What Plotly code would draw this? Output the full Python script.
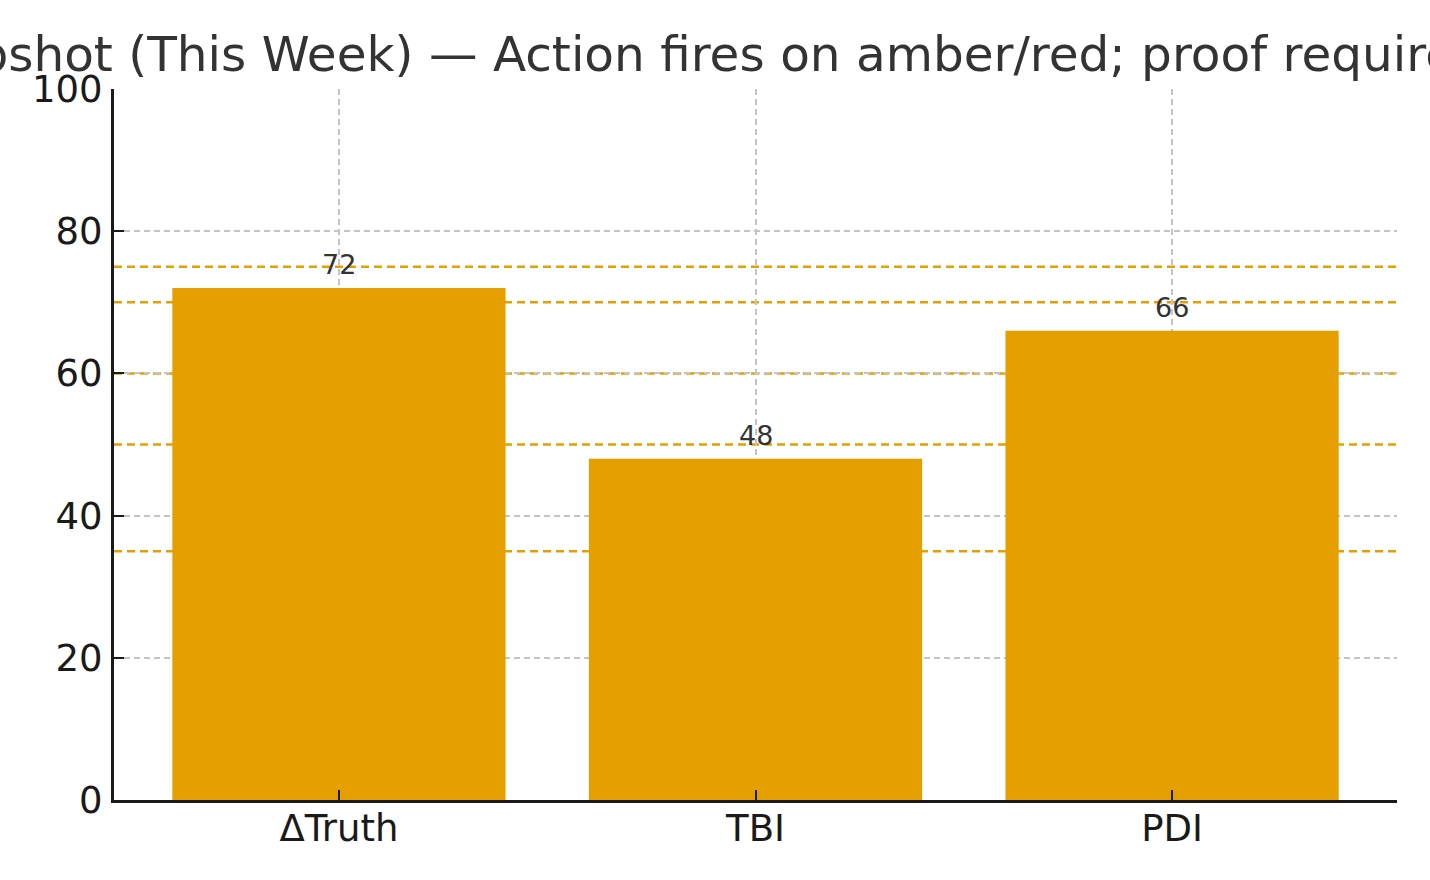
"""
KPI snapshot bar chart - Plotly recreation
"""

import plotly.graph_objects as go

# ── data ──────────────────────────────────────────────────
categories = ["ΔTruth", "TBI", "PDI"]
scores = [72, 48, 66]
threshold_levels = [75, 70, 60, 50, 35]
y_ticks = [0, 20, 40, 60, 80, 100]

TITLE = "Snapshot (This Week) — Action fires on amber/red; proof required"
AMBER = "#E5A000"
FONT = "DejaVu Sans"

fig = go.Figure()

fig.add_trace(
    go.Bar(
        x=categories,
        y=scores,
        width=0.8,
        marker=dict(color=AMBER, line=dict(width=0)),
        showlegend=False,
        hoverinfo="x+y",
    )
)

# value labels above bars
for cat, val in zip(categories, scores):
    fig.add_annotation(
        x=cat, y=val,
        text=str(val),
        showarrow=False,
        yanchor="bottom",
        yshift=6,
        font=dict(family=FONT, size=27, color="#333333"),
    )

# threshold lines (behind bars)
for lvl in threshold_levels:
    fig.add_shape(
        type="line",
        xref="paper", yref="y",
        x0=0, x1=1, y0=lvl, y1=lvl,
        line=dict(color="#E69F00", width=2.5, dash="8px,5px"),
        layer="below",
    )

fig.update_layout(
    width=1430,
    height=880,
    paper_bgcolor="white",
    plot_bgcolor="white",
    margin=dict(l=114, r=33, t=89, b=80, autoexpand=False),
    title=dict(
        text=TITLE,
        x=0.4797,
        xref="container",
        xanchor="center",
        y=0.939,
        yref="container",
        yanchor="middle",
        font=dict(family=FONT, size=48.5, color="#333333"),
    ),
    font=dict(family=FONT, color="#1a1a1a"),
)

fig.update_xaxes(
    range=[-0.54, 2.54],
    automargin=False,
    showline=True,
    linecolor="#1a1a1a",
    linewidth=3,
    ticks="inside",
    ticklen=10,
    tickwidth=2,
    tickcolor="#1a1a1a",
    tickfont=dict(family=FONT, size=37, color="#1a1a1a"),
    ticklabelstandoff=-6,
    showgrid=True,
    gridcolor="#c4c4c4",
    gridwidth=1.6,
    griddash="6px,4px",
    layer="above traces",
)

fig.update_yaxes(
    range=[0, 100],
    automargin=False,
    tickvals=y_ticks,
    showline=True,
    linecolor="#1a1a1a",
    linewidth=3,
    ticks="inside",
    ticklen=10,
    tickwidth=2,
    tickcolor="#1a1a1a",
    tickfont=dict(family=FONT, size=37, color="#1a1a1a"),
    ticklabelstandoff=1,
    showgrid=True,
    gridcolor="#c4c4c4",
    gridwidth=1.6,
    griddash="6px,4px",
    zeroline=False,
    layer="above traces",
)

# page body has a default 8px margin; drop it so the figure sits at 0,0
fig.write_html(
    "out.html",
    config={"displayModeBar": False},
    post_script="document.body.style.margin='0px';",
)
